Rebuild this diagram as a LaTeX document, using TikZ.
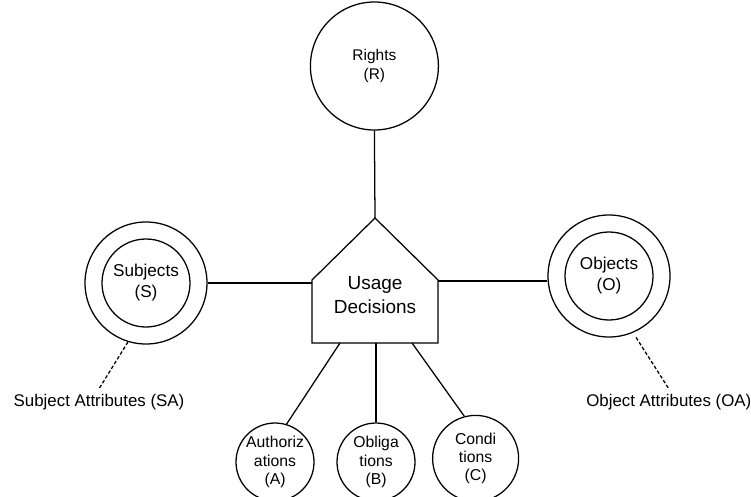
\documentclass[tikz,border=0pt]{standalone}
\usepackage{fontspec}
\setmainfont{Liberation Sans}
\usetikzlibrary{calc}

\begin{document}
\begin{tikzpicture}[line width=0.9pt,
		entity/.style={circle,draw,align=center,inner sep=0pt},
		holder/.style={entity,minimum size=3.05cm},
		core/.style={entity,minimum size=2.2cm,font=\fontsize{12.2}{15}\selectfont},
		part/.style={entity,minimum size=1.95cm,font=\fontsize{11.2}{13}\selectfont},
		attr/.style={font=\fontsize{12}{14}\selectfont},
		attrlink/.style={dash pattern=on 2.5pt off 1.5pt}]
		\useasboundingbox (0,0) rectangle (18.775,12.4);
		\coordinate (h) at (9.375,5.025);
		\coordinate (apex) at ($ (h) + (0,1.925) $);
		\coordinate (tl) at ($ (h) + (-1.575,0.375) $);
		\coordinate (tr) at ($ (h) + (1.575,0.375) $);
		\coordinate (bl) at ($ (h) + (-1.575,-1.2) $);
		\coordinate (br) at ($ (h) + (1.575,-1.2) $);
		\draw (apex) -- (tr) -- (br) -- (bl) -- (tl) -- cycle;
		\node[align=center,font=\fontsize{13.5}{17}\selectfont] (ud) at (h) {Usage\\Decisions};
		\node[entity,minimum size=3.2cm,font=\fontsize{11}{13.5}\selectfont] (rgt) at (9.36,10.75) {Rights\\(R)};
		\draw (rgt.south) -- (apex);
		\node[holder] (subj) at (3.65,5.325) {};
		\node[core] (subjin) at (subj) {Subjects\\(S)};
		\draw (subj.east) -- (subj.east -| tl);
		\node[holder] (obj) at (15.225,5.5) {};
		\node[core] (objin) at (obj) {Objects\\(O)};
		\coordinate (or) at ($ (tr) + (0,-0.025) $);
		\draw (or) -- (or -| obj.west);
		\node[attr] (sa) at (2.475,2.35) {Subject Attributes (SA)};
		\node[attr] (oa) at (16.72,2.35) {Object Attributes (OA)};
		\draw[attrlink] (subj.253) -- (sa.north);
		\draw[attrlink,shorten <=4pt] (obj.293) -- (oa.north);
		\node[part] (auth) at (6.875,0.85) {Authoriz\\ations\\(A)};
		\node[part] (obl) at (9.4,0.85) {Obliga\\tions\\(B)};
		\node[part,minimum size=2.15cm] (cond) at (11.89,0.94) {Condi\\tions\\(C)};
		\draw ($ (bl)!0.222!(br) $) -- (auth.73);
		\draw (obl.north) -- (obl.north |- bl);
		\draw ($ (bl)!0.794!(br) $) -- (cond.105);
	\end{tikzpicture}
\end{document}
